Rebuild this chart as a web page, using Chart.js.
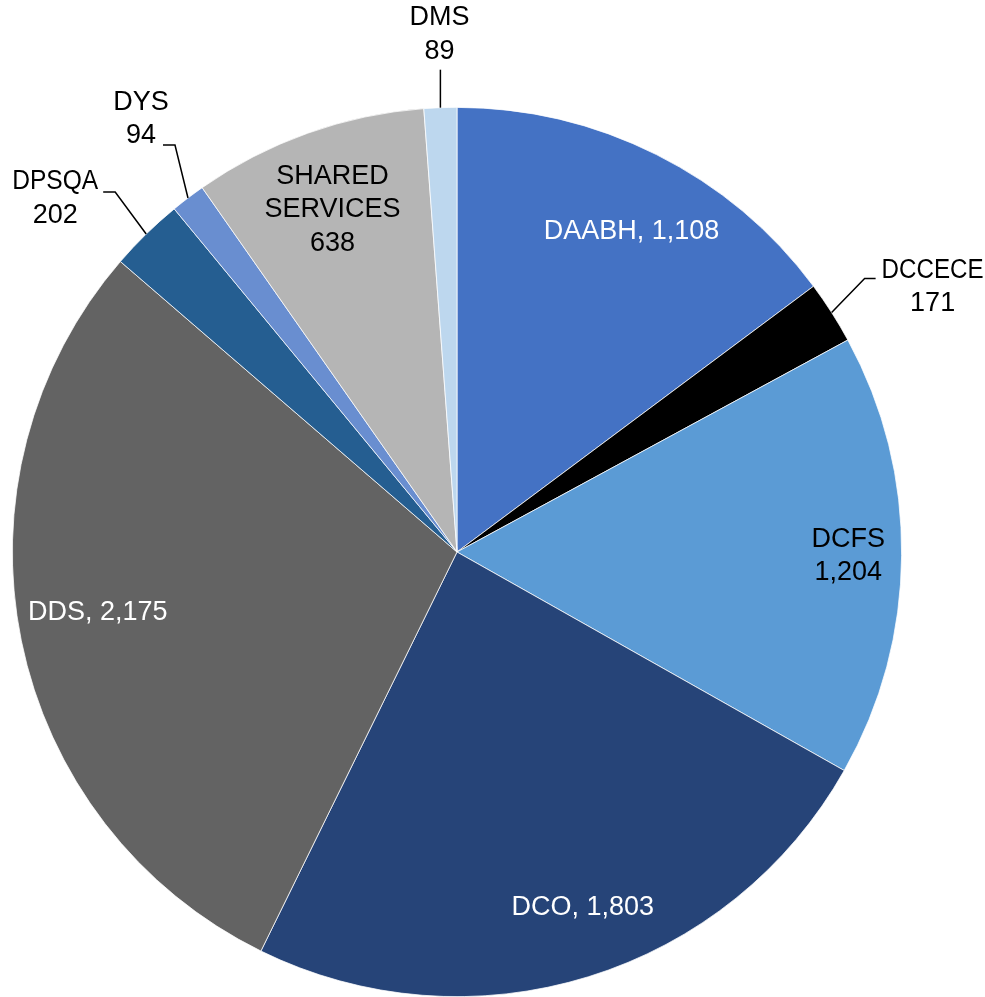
<!DOCTYPE html>
<html>
<head>
<meta charset="utf-8">
<script src="https://cdn.jsdelivr.net/npm/chart.js@4/dist/chart.umd.min.js"></script>
<style>
  html, body { margin: 0; padding: 0; background: #fff; }
  #wrap { width: 985px; height: 997px; }
</style>
</head>
<body>
<div id="wrap"><canvas id="chart"></canvas></div>
<script>
// Data
const categories = ["DAABH", "DCCECE", "DCFS", "DCO", "DDS", "DPSQA", "DYS", "SHARED SERVICES", "DMS"];
const values = [1108, 171, 1204, 1803, 2175, 202, 94, 638, 89];
const colors = ["#4472C4", "#000000", "#5B9BD5", "#264478", "#636363", "#255E91", "#698ED0", "#B5B5B5", "#BDD7EE"];

// Label styles, by slice index
// inside: drawn at frac * radius along the middle angle, plus a small nudge
// outside: leader line from the edge to an elbow, short tail, text after it
const labelStyle = [
  { inside: true, frac: 0.82, nudge: [11, 5], color: "#fff", oneLine: true },
  { inside: false, elbow: [33, -34], tail: 11, text: [57, 8.5], maxW: 102 },
  { inside: true, frac: 0.88, nudge: [0, 1], color: "#000" },
  { inside: true, frac: 0.85, nudge: [14, -5], color: "#fff", oneLine: true },
  { inside: true, frac: 0.82, nudge: [-2, -12], color: "#fff", oneLine: true },
  { inside: false, elbow: [-31, -42], tail: -12, text: [-48, 6.5], maxW: 86 },
  { inside: false, elbow: [-13, -53], tail: -12, text: [-22, -26] },
  { inside: true, frac: 0.82, nudge: [-2, 1], color: "#000", split: ["SHARED", "SERVICES"] },
  { inside: false, elbow: [0, -38], tail: 0, text: [-1, -35] },
];

const FONT = "27px 'Liberation Sans', Arial, sans-serif";
const LINE_H = 33.5;

function fmt(v) {
  return v.toLocaleString("en-US");
}

const labelPlugin = {
  id: "sliceLabels",
  afterDatasetsDraw(chart) {
    const ctx = chart.ctx;
    const meta = chart.getDatasetMeta(0);
    ctx.save();
    ctx.font = FONT;
    ctx.textAlign = "center";
    ctx.textBaseline = "middle";
    meta.data.forEach((arc, i) => {
      const p = arc.getProps(["x", "y", "startAngle", "endAngle", "outerRadius"], true);
      const mid = (p.startAngle + p.endAngle) / 2;
      const st = labelStyle[i];
      const name = categories[i];
      const val = fmt(values[i]);
      let lines;
      if (st.oneLine) lines = [name + ", " + val];
      else if (st.split) lines = st.split.concat([val]);
      else lines = [name, val];

      let cx, cy;
      if (st.inside) {
        cx = p.x + Math.cos(mid) * p.outerRadius * st.frac + st.nudge[0];
        cy = p.y + Math.sin(mid) * p.outerRadius * st.frac + st.nudge[1];
        ctx.fillStyle = st.color;
      } else {
        const ex = p.x + Math.cos(mid) * p.outerRadius;
        const ey = p.y + Math.sin(mid) * p.outerRadius;
        const bx = ex + st.elbow[0];
        const by = ey + st.elbow[1];
        const tx = bx + st.tail;
        ctx.strokeStyle = "#000";
        ctx.lineWidth = 1.5;
        ctx.beginPath();
        ctx.moveTo(ex, ey);
        ctx.lineTo(bx, by);
        ctx.lineTo(tx, by);
        ctx.stroke();
        cx = tx + st.text[0];
        cy = by + st.text[1];
        ctx.fillStyle = "#000";
      }
      const top = cy - (lines.length - 1) * LINE_H / 2;
      lines.forEach((t, k) => {
        if (st.maxW) ctx.fillText(t, cx, top + k * LINE_H, st.maxW);
        else ctx.fillText(t, cx, top + k * LINE_H);
      });
    });
    ctx.restore();
  },
};

new Chart(document.getElementById("chart"), {
  type: "pie",
  data: {
    labels: categories,
    datasets: [{
      data: values,
      backgroundColor: colors,
      borderColor: "#ffffff",
      borderWidth: 0.75,
    }],
  },
  options: {
    responsive: true,
    maintainAspectRatio: false,
    animation: false,
    layout: { padding: { left: 12, right: 83, top: 107, bottom: 0 } },
    plugins: {
      legend: { display: false },
      tooltip: { enabled: false },
    },
  },
  plugins: [labelPlugin],
});
</script>
</body>
</html>
